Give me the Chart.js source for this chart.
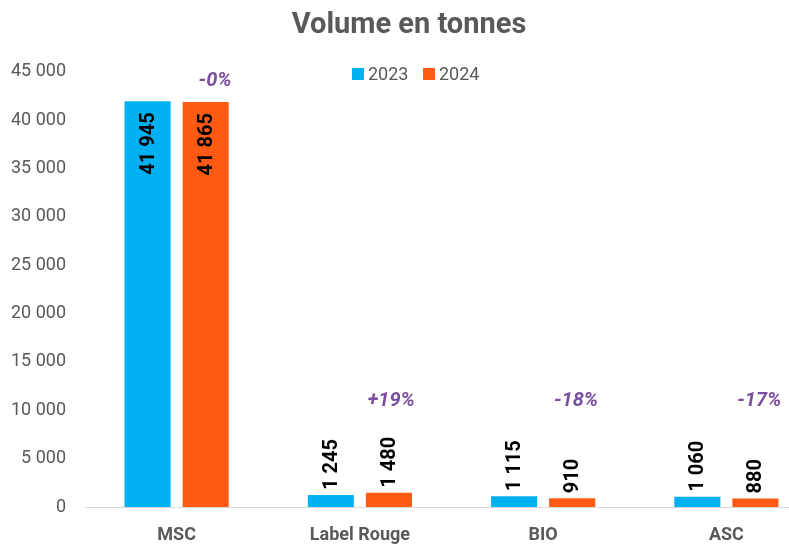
<!DOCTYPE html>
<html>
<head>
<meta charset="utf-8">
<script src="https://cdn.jsdelivr.net/npm/chart.js@4.4.1/dist/chart.umd.min.js"></script>
<style>
    html, body { margin: 0; padding: 0; background: #fff; overflow: hidden; }
    #wrap { width: 820px; height: 546px; }
</style>
</head>
<body>
<div id="wrap"><canvas id="grafico" width="820" height="546"></canvas></div>
<script>
// données
const categories = ['MSC', 'Label Rouge', 'BIO', 'ASC'];
const annees = ['2023', '2024'];
const volumes2023 = [41945, 1245, 1115, 1060];
const volumes2024 = [41865, 1480, 910, 880];
const evolutions = ['-0%', '+19%', '-18%', '-17%'];
const positionsEvolution = [44000, 11000, 11000, 11000]; // hauteur des étiquettes %, en tonnes
const couleurs = ['#00B0F0', '#FF5A14'];

const gris = '#595959';

function formatNombre(v) {
    return Math.round(v).toString().replace(/\B(?=(\d{3})+(?!\d))/g, ' ');
}

// étiquettes de valeurs, évolutions et légende
const etiquettes = {
    id: 'etiquettes',
    afterDatasetsDraw(chart) {
        const ctx = chart.ctx;
        const y = chart.scales.y;
        ctx.save();
        ctx.fillStyle = '#000';
        ctx.font = 'bold 20px Roboto';
        chart.data.datasets.forEach((ds, i) => {
            const meta = chart.getDatasetMeta(i);
            meta.data.forEach((bar, j) => {
                const txt = formatNombre(ds.data[j]);
                ctx.save();
                ctx.translate(bar.x, bar.y);
                ctx.rotate(-Math.PI / 2);
                ctx.textBaseline = 'middle';
                if (ds.data[j] > 20000) {
                    ctx.textAlign = 'right';
                    ctx.fillText(txt, -11, 1);
                } else {
                    ctx.textAlign = 'left';
                    ctx.fillText(txt, 5, 1);
                }
                ctx.restore();
            });
        });

        // évolutions 2024 / 2023
        const meta24 = chart.getDatasetMeta(1);
        ctx.fillStyle = '#7B4F9E';
        ctx.font = 'italic bold 20px Roboto';
        ctx.textAlign = 'right';
        ctx.textBaseline = 'middle';
        evolutions.forEach((txt, j) => {
            const bar = meta24.data[j];
            ctx.fillText(txt, bar.x + bar.width / 2 + 3, y.getPixelForValue(positionsEvolution[j]));
        });

        // légende
        ctx.font = '18px Roboto';
        ctx.textAlign = 'left';
        let x = 352;
        const ly = 74;
        chart.data.datasets.forEach((ds) => {
            ctx.fillStyle = ds.backgroundColor;
            ctx.fillRect(x, ly - 6, 12, 12);
            ctx.fillStyle = gris;
            ctx.fillText(ds.label, x + 16, ly + 1);
            x += 71;
        });
        ctx.restore();
    }
};

const ctx = document.getElementById('grafico').getContext('2d');
const grafico = new Chart(ctx, {
    type: 'bar',
    data: {
        labels: categories,
        datasets: [
            { label: annees[0], data: volumes2023, backgroundColor: couleurs[0] },
            { label: annees[1], data: volumes2024, backgroundColor: couleurs[1] }
        ]
    },
    options: {
        responsive: false,
        animation: false,
        layout: { padding: { left: 0, right: 2, top: 0, bottom: 0 } },
        datasets: {
            bar: { categoryPercentage: 0.634, barPercentage: 0.793 }
        },
        plugins: {
            legend: { display: false },
            tooltip: { enabled: false },
            title: {
                display: true,
                text: 'Volume en tonnes',
                color: gris,
                font: { family: 'Roboto', size: 29, weight: 'bold' },
                padding: { top: 8, bottom: 29 }
            }
        },
        scales: {
            x: {
                grid: { display: false },
                border: { display: true, color: '#D9D9D9', width: 1 },
                ticks: {
                    color: gris,
                    font: { family: 'Roboto', size: 18, weight: 'bold' },
                    padding: 10
                },
                afterFit: function (scale) { scale.height = 39; }
            },
            y: {
                min: 0,
                max: 45000,
                grid: { display: false },
                border: { display: false },
                ticks: {
                    stepSize: 5000,
                    color: gris,
                    font: { family: 'Roboto', size: 18 },
                    padding: 11,
                    callback: function (value) { return formatNombre(value); }
                },
                afterFit: function (scale) { scale.width = 85; }
            }
        }
    },
    plugins: [etiquettes]
});
</script>
</body>
</html>
